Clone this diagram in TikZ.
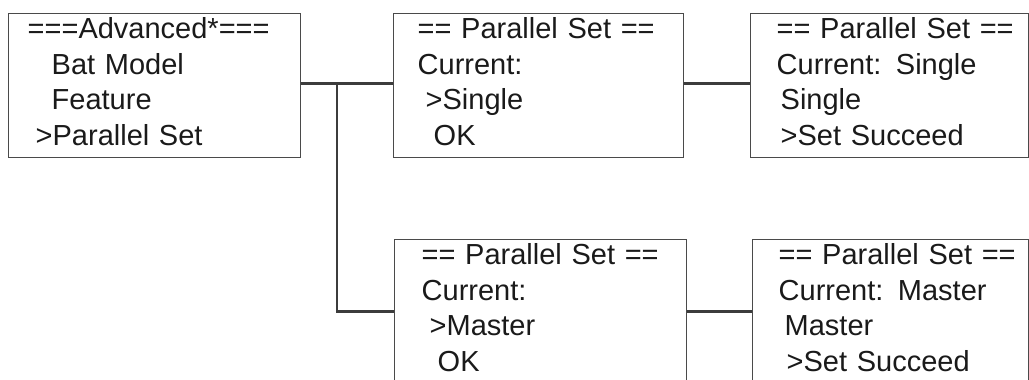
\documentclass[tikz,border=0pt]{standalone}
\usepackage{fontspec}
\setmainfont{Liberation Sans}
\definecolor{framegray}{HTML}{4A4A4A}
\definecolor{wiregray}{HTML}{3C3C3C}
\definecolor{inkblack}{HTML}{1A1A1A}
% one line of a screen, kept unbroken
\newcommand\scrline[2][0pt]{\mbox{\hspace*{#1}#2}}
\begin{document}
\begin{tikzpicture}[x=1pt,y=-1pt,
  screen/.style={draw=framegray, line width=1.4pt, anchor=north west,
    inner ysep=0pt, text height=25pt, text depth=119pt,
    align=left, text=inkblack,
    font=\fontsize{29}{35.5}\selectfont},
  wire/.style={draw=wiregray, line width=2.8pt}]
  \useasboundingbox (0,0) rectangle (1029,380);
  \clip (0,0) rectangle (1029,380);

  % menu screens
  \node[screen, inner xsep=19pt, text width=254pt] (adv) at (8,13)
    {\scrline{===Advanced*===}\\\scrline[24pt]{Bat Model}\\
     \scrline[24pt]{Feature}\\\scrline[8pt]{>Parallel Set}};
  \node[screen, inner xsep=24pt, text width=242pt] (single) at (393,13)
    {\scrline{== Parallel Set ==}\\\scrline{Current:}\\
     \scrline[8pt]{>Single}\\\scrline[16pt]{OK}};
  \node[screen, inner xsep=26pt, text width=226pt] (singleok) at (750,13)
    {\scrline{== Parallel Set ==}\\\scrline{Current: Single}\\
     \scrline[4pt]{Single}\\\scrline[4pt]{>Set Succeed}};
  \node[screen, inner xsep=27pt, text width=238pt] (master) at (394,239)
    {\scrline{== Parallel Set ==}\\\scrline{Current:}\\
     \scrline[8pt]{>Master}\\\scrline[16pt]{OK}};
  \node[screen, inner xsep=26pt, text width=224pt] (masterok) at (752,239)
    {\scrline{== Parallel Set ==}\\\scrline{Current: Master}\\
     \scrline[6pt]{Master}\\\scrline[8pt]{>Set Succeed}};

  % connections between screens
  \coordinate (split) at (337,0);
  \coordinate (tap) at ([yshift=2pt]adv.east);
  \draw[wire] (tap) -- ([yshift=2pt]single.west);
  \draw[wire] (split |- tap) |- (master.west);
  \draw[wire] ([yshift=2pt]single.east) -- ([yshift=2pt]singleok.west);
  \draw[wire] (master.east) -- (masterok.west);
\end{tikzpicture}
\end{document}
